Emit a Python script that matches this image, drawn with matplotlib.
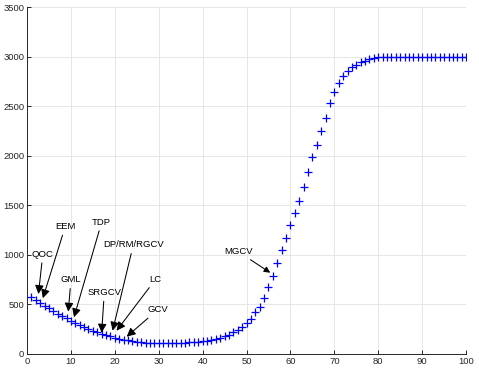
import matplotlib
matplotlib.use("Agg")
import matplotlib.pyplot as plt
import numpy as np

# Curve values, x = 1..100
x_vals = np.arange(1, 101)
y_vals = [
    575, 545, 515, 487, 460, 433, 407, 382, 358, 335,
    313, 292, 272, 253, 236, 220, 205, 191, 178, 166,
    155, 145, 136, 128, 121, 116, 112, 110, 109, 108,
    108, 108, 109, 110, 111, 113, 116, 119, 123, 128,
    134, 141, 150, 162, 177, 196, 218, 244, 273, 310,
    352, 420, 475, 565, 672, 782, 921, 1052, 1165, 1297,
    1424, 1546, 1688, 1837, 1991, 2109, 2252, 2381, 2536, 2640,
    2731, 2805, 2856, 2893, 2920, 2942, 2960, 2976, 2987, 2994,
    2998, 3000, 3000, 3000, 3000, 3000, 3000, 3000, 3000, 3000,
    3000, 3000, 3000, 3000, 3000, 3000, 3000, 3000, 3000, 3000,
]

# Annotation labels: text position and arrow tip (data coords)
labels = ["QOC", "EEM", "GML", "TDP", "SRGCV", "DP/RM/RGCV", "LC", "GCV", "MGCV"]
text_xy = [(3.6, 1006), (8.7, 1285), (10.0, 747), (17.0, 1329), (17.6, 619),
           (24.2, 1100), (29.3, 754), (29.7, 444), (48.1, 1032)]
tip_xy = [(2.6, 605), (3.6, 562), (9.4, 427), (10.7, 370), (17.0, 215),
          (19.5, 235), (20.4, 235), (22.7, 175), (55.4, 820)]

plt.rcParams["font.family"] = ["Liberation Sans", "DejaVu Sans"]
plt.rcParams["font.size"] = 6.8

fig = plt.figure(figsize=(4.79, 3.69), dpi=100)
ax = fig.add_axes([0.0564, 0.0407, 0.9166, 0.9403])

ax.plot(x_vals, y_vals, linestyle="none", marker="+", color=(0, 0, 1),
        markersize=5.5, markeredgewidth=0.9)

for lab, txy, pxy in zip(labels, text_xy, tip_xy):
    small = lab == "MGCV"
    ax.annotate(lab, xy=pxy, xytext=txy, ha="center", va="center",
                color="black",
                arrowprops=dict(arrowstyle="-|>", color="k", lw=0.75,
                                mutation_scale=9 if small else 13,
                                shrinkA=1, shrinkB=0))

ax.set_xlim(0, 100)
ax.set_ylim(0, 3500)
ax.set_xticks(np.arange(0, 101, 10))
ax.set_yticks(np.arange(0, 3501, 500))
ax.grid(True, color="#e6e6e6", linewidth=0.7)
ax.set_axisbelow(True)

for side in ["top", "right"]:
    ax.spines[side].set_visible(False)
for side in ["left", "bottom"]:
    ax.spines[side].set_color("#262626")
    ax.spines[side].set_linewidth(0.7)
ax.tick_params(direction="in", length=3, width=0.7, colors="#262626", pad=2)

fig.savefig("out.png", dpi=100)
